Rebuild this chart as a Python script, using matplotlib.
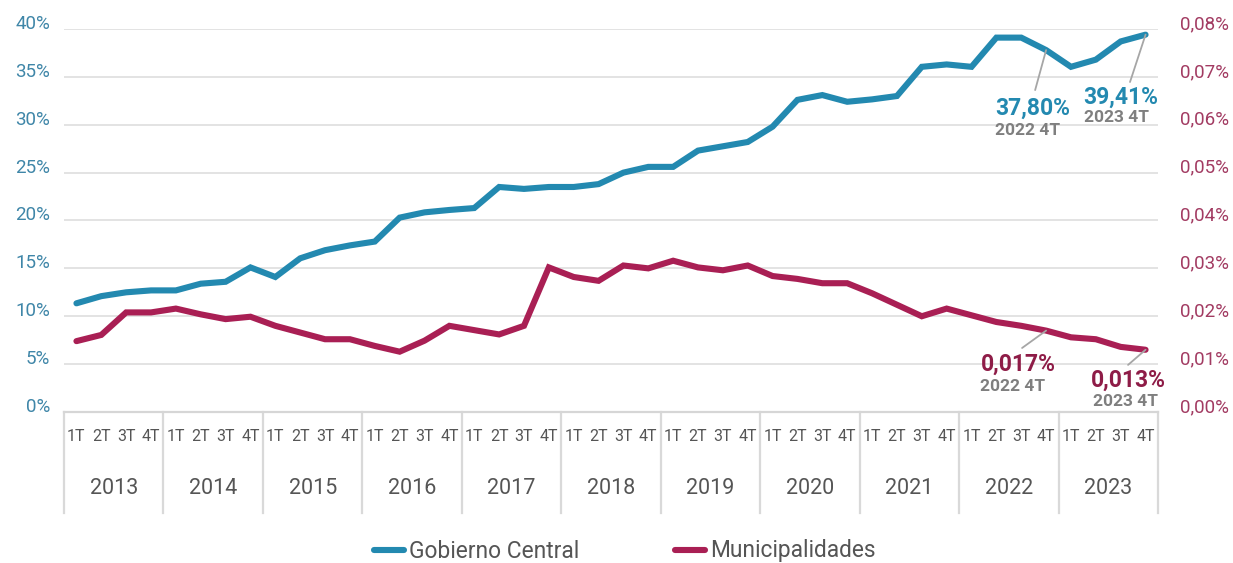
import numpy as np
import matplotlib
matplotlib.use("Agg")
import matplotlib.pyplot as plt
import matplotlib.transforms as mtransforms
from matplotlib.lines import Line2D

plt.rcParams['font.family'] = ['Roboto', 'DejaVu Sans']

years = ["2013", "2014", "2015", "2016", "2017", "2018", "2019", "2020", "2021", "2022", "2023"]
quarters = ["1T", "2T", "3T", "4T"]

gobierno = [11.35, 12.1, 12.5, 12.7, 12.7, 13.4, 13.6, 15.1, 14.1, 16.05, 16.9, 17.4,
            17.8, 20.3, 20.85, 21.1, 21.3, 23.5, 23.3, 23.5, 23.5, 23.8, 25.0, 25.6,
            25.6, 27.3, 27.75, 28.2, 29.8, 32.6, 33.1, 32.4, 32.65, 33.0, 36.05, 36.3,
            36.05, 39.1, 39.1, 37.80, 36.05, 36.8, 38.7, 39.41]
municipal = [0.0148, 0.0161, 0.0208, 0.0208, 0.0216, 0.0204, 0.0194, 0.0199, 0.0180, 0.0166, 0.0152, 0.0152,
             0.0138, 0.0126, 0.0149, 0.0180, 0.0171, 0.0162, 0.0180, 0.0302, 0.0282, 0.0274, 0.0306, 0.0300,
             0.0316, 0.0302, 0.0296, 0.0306, 0.0284, 0.0278, 0.0269, 0.0269, 0.0248, 0.0224, 0.0200, 0.0216,
             0.0202, 0.0188, 0.0180, 0.0170, 0.0156, 0.0152, 0.0136, 0.0130]

left_ticks = [0, 5, 10, 15, 20, 25, 30, 35, 40]
left_labels = ["0%", "5%", "10%", "15%", "20%", "25%", "30%", "35%", "40%"]
right_ticks = [0, 0.01, 0.02, 0.03, 0.04, 0.05, 0.06, 0.07, 0.08]
right_labels = ["0,00%", "0,01%", "0,02%", "0,03%", "0,04%", "0,05%", "0,06%", "0,07%", "0,08%"]

annots_g = [(39, "37,80%", "2022 4T"), (43, "39,41%", "2023 4T")]
annots_m = [(39, "0,017%", "2022 4T"), (43, "0,013%", "2023 4T")]

BLUE = "#2389b0"
RED = "#a91f54"
RED_TXT = "#8e1c47"
LBLUE = "#3f86a8"
LRED = "#a23b62"
GRAY_TXT = "#7f7f7f"
GRID = "#e1e1e1"
LEAD = "#a6a6a6"
AXTXT = "#555555"

W, H = 1233, 563
fig = plt.figure(figsize=(W / 100, H / 100), dpi=100)
x0, x1, ytop, ybot = 64, 1158, 29, 412
ax = fig.add_axes([x0 / W, 1 - ybot / H, (x1 - x0) / W, (ybot - ytop) / H])
ax2 = ax.twinx()

n = len(gobierno)
x = np.arange(n)

ax.plot(x, gobierno, color=BLUE, lw=4.4, solid_joinstyle="miter", solid_capstyle="round", zorder=3)
ax2.plot(x, municipal, color=RED, lw=4.4, solid_joinstyle="miter", solid_capstyle="round", zorder=3)

ax.set_xlim(-0.5, n - 0.5)
ax.set_ylim(0, 40)
ax2.set_ylim(0, 0.08)

for a in (ax, ax2):
    for s in a.spines.values():
        s.set_visible(False)
ax.spines["bottom"].set_visible(True)
ax.spines["bottom"].set_color("#d6d6d6")
ax.spines["bottom"].set_linewidth(1.6)

ax.set_yticks(left_ticks)
ax.set_yticklabels(left_labels, color=LBLUE, fontsize=13.5)
ax2.set_yticks(right_ticks)
ax2.set_yticklabels(right_labels, color=LRED, fontsize=13.5)
ax.tick_params(axis="y", length=0, pad=10)
ax2.tick_params(axis="y", length=0, pad=16)
for lab in ax.get_yticklabels() + ax2.get_yticklabels():
    lab.set_va("baseline")
for yv in left_ticks[1:]:
    ax.axhline(yv, color=GRID, lw=1.3, zorder=1)

ax.set_xticks(x)
ax.set_xticklabels([q for _ in years for q in quarters], fontsize=11.5, color=AXTXT)
ax.tick_params(axis="x", length=0, pad=12)

trans = mtransforms.blended_transform_factory(ax.transData, ax.transAxes)
axh = ybot - ytop
sep_bottom = -(513 - ybot) / axh
for k in range(len(years) + 1):
    xs = 4 * k - 0.5
    ax.plot([xs, xs], [0, sep_bottom], transform=trans, color="#d9d9d9", lw=1.6, clip_on=False)
for k, yr in enumerate(years):
    ax.text(4 * k + 1.5, -(489 - ybot) / axh, yr, transform=trans, ha="center", va="center",
            fontsize=15.5, color=AXTXT)


def add_annot(a, xi, yv, val, sub, color, off_val, off_sub, off_line):
    a.annotate("", xy=(xi, yv), xytext=off_line, textcoords="offset points",
               arrowprops=dict(arrowstyle="-", color=LEAD, lw=1.3, shrinkA=0, shrinkB=0), zorder=5)
    a.annotate(val, xy=(xi, yv), xytext=off_val, textcoords="offset points",
               ha="center", va="baseline", fontsize=16.5, fontweight="bold", color=color, zorder=5)
    a.annotate(sub, xy=(xi, yv), xytext=off_sub, textcoords="offset points",
               ha="center", va="baseline", fontsize=12.5, fontweight="bold", color=GRAY_TXT, zorder=5)


xi, v, s = annots_g[0]
add_annot(ax, xi, gobierno[xi], v, s, BLUE, (-9.4, -46.8), (-13, -61.2), (-7.9, -28.8))
xi, v, s = annots_g[1]
add_annot(ax, xi, gobierno[xi], v, s, BLUE, (-17.6, -50), (-21.2, -62.9), (-11.2, -34.1))
xi, v, s = annots_m[0]
add_annot(ax2, xi, municipal[xi], v, s, RED_TXT, (-20.2, -29.1), (-24.5, -43.5), (-17.3, -12.5))
xi, v, s = annots_m[1]
add_annot(ax2, xi, municipal[xi], v, s, RED_TXT, (-12.6, -26.8), (-14.8, -40.5), (-12.6, -10.9))

handles = [Line2D([], [], color=BLUE, lw=4.4, solid_capstyle="round"),
           Line2D([], [], color=RED, lw=4.4, solid_capstyle="round")]
fig.legend(handles, ["Gobierno Central", "Municipalidades"], loc="center",
           bbox_to_anchor=(625 / W, 1 - 551 / H), ncol=2, frameon=False,
           fontsize=16.4, handlelength=1.3, handletextpad=0.25, columnspacing=4.2,
           labelcolor=AXTXT)

fig.savefig("out.png", dpi=100)
